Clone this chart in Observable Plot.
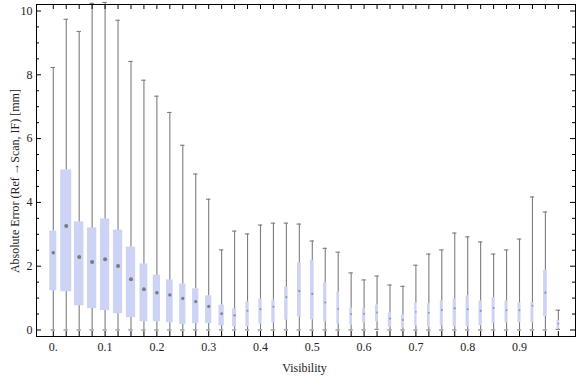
<!DOCTYPE html>
<html>
<head>
<meta charset="utf-8">
<script src="https://cdn.jsdelivr.net/npm/d3@7"></script>
<script src="https://cdn.jsdelivr.net/npm/@observablehq/plot@0.6"></script>
<style>
  html, body { margin: 0; padding: 0; background: white; }
</style>
</head>
<body>
<div id="chart"></div>
<script>
// ---- data ----
const visibility = [0, 0.025, 0.05, 0.075, 0.1, 0.125, 0.15, 0.175, 0.2, 0.225,
  0.25, 0.275, 0.3, 0.325, 0.35, 0.375, 0.4, 0.425, 0.45, 0.475,
  0.5, 0.525, 0.55, 0.575, 0.6, 0.625, 0.65, 0.675, 0.7, 0.725,
  0.75, 0.775, 0.8, 0.825, 0.85, 0.875, 0.9, 0.925, 0.95, 0.975];
const whiskerHigh = [8.23, 9.74, 9.36, 10.24, 10.27, 9.71, 8.42, 7.83, 7.33, 6.82,
  5.79, 4.89, 4.10, 2.51, 3.10, 3.01, 3.29, 3.35, 3.35, 3.32,
  2.79, 2.56, 2.44, 1.79, 1.57, 1.69, 1.41, 1.37, 2.03, 2.38,
  2.51, 3.04, 2.92, 2.76, 2.38, 2.51, 2.85, 4.17, 3.70, 0.62];
const upperQuartile = [3.10, 5.02, 3.39, 3.20, 3.48, 3.13, 2.60, 2.07, 1.72, 1.57,
  1.44, 1.29, 1.07, 0.78, 0.66, 0.88, 0.97, 0.94, 1.35, 2.10,
  2.19, 1.47, 1.19, 0.68, 0.66, 0.78, 0.53, 0.47, 0.85, 0.82,
  0.91, 0.97, 1.07, 0.91, 1.02, 0.91, 0.85, 0.85, 1.87, 0.30];
const median = [2.42, 3.26, 2.29, 2.13, 2.22, 2.01, 1.59, 1.28, 1.17, 1.10,
  0.99, 0.89, 0.74, 0.51, 0.46, 0.60, 0.65, 0.73, 1.03, 1.22,
  1.13, 0.86, 0.66, 0.50, 0.51, 0.55, 0.36, 0.31, 0.57, 0.54,
  0.63, 0.68, 0.65, 0.60, 0.69, 0.62, 0.62, 0.76, 1.17, 0.20];
const lowerQuartile = [1.23, 1.20, 0.76, 0.67, 0.61, 0.51, 0.39, 0.26, 0.26, 0.23,
  0.17, 0.20, 0.20, 0.13, 0.10, 0.10, 0.19, 0.23, 0.31, 0.41,
  0.32, 0.26, 0.19, 0.16, 0.23, 0.26, 0.09, 0.06, 0.13, 0.08,
  0.13, 0.10, 0.10, 0.13, 0.20, 0.23, 0.23, 0.23, 0.42, 0.04];
const whiskerLow = [0, 0, 0, 0, 0, 0, 0, 0, 0, 0,
  0, 0, 0, 0, 0, 0, 0, 0, 0, 0,
  0, 0, 0, 0, 0, 0.02, 0, 0, 0, 0,
  0, 0, 0, 0, 0, 0, 0, 0, 0, 0.02];
// relative sample weight of each bin (drives the box width)
const binWeight = [7, 11, 9.5, 9.3, 9.3, 9.3, 9.3, 7.8, 7.3, 6.7,
  6.3, 6.3, 6.3, 5.3, 4, 3.3, 3.3, 3.3, 3.3, 3.7,
  3.7, 3.3, 2.7, 2.7, 3, 3, 3.3, 3, 2.3, 2.7,
  3, 3.3, 3.3, 3.3, 3, 3, 3, 3, 3.7, 2.7];

const xTicks = [0, 0.1, 0.2, 0.3, 0.4, 0.5, 0.6, 0.7, 0.8, 0.9];
const xTickLabels = ["0.", "0.1", "0.2", "0.3", "0.4", "0.5", "0.6", "0.7", "0.8", "0.9"];
const yTicks = [0, 2, 4, 6, 8, 10];
const yTickLabels = ["0", "2", "4", "6", "8", "10"];
const yMinorTicks = d3.range(0, 10.01, 0.5).filter(v => v % 2 !== 0);

const xLabel = "Visibility";
const yLabel = "Absolute Error (Ref\u2009\u2192Scan, IF) [mm]";

// ---- layout ----
const W = 576, H = 377;
const mL = 36, mR = 1, mT = 4, mB = 41;
const plotW = W - mL - mR, plotH = H - mT - mB;
const xDomain = [-0.0324, 1.0081];
const yDomain = [-0.204, 10.204];
const unitsPerPx = (xDomain[1] - xDomain[0]) / plotW;
const capHalf = 2.2 * unitsPerPx;

const rows = visibility.map((v, i) => ({
  v, hi: whiskerHigh[i], q3: upperQuartile[i], med: median[i],
  q1: lowerQuartile[i], lo: whiskerLow[i], w: binWeight[i]
}));

const font = "'Liberation Serif', 'Times New Roman', serif";
const textColor = "#222";
const whiskerColor = "#7d7d7d";
const boxColor = "#ccd3f5";
const medianColor = "#7a7a7a";

const chart = Plot.plot({
  width: W, height: H,
  marginLeft: mL, marginRight: mR, marginTop: mT, marginBottom: mB,
  style: `font-family: ${font}; font-size: 12px; color: black; background: white; overflow: visible;`,
  x: {domain: xDomain, axis: null},
  y: {domain: yDomain, axis: null},
  r: {type: "identity"},
  marks: [
    // boxes
    Plot.rect(rows, {
      x1: d => d.v - d.w / 2 * unitsPerPx,
      x2: d => d.v + d.w / 2 * unitsPerPx,
      y1: "q1", y2: "q3", fill: boxColor
    }),
    // whiskers
    Plot.ruleX(rows, {x: "v", y1: "q3", y2: "hi", stroke: whiskerColor, strokeWidth: 1.1}),
    Plot.ruleX(rows, {x: "v", y1: "lo", y2: "q1", stroke: whiskerColor, strokeWidth: 1.1}),
    Plot.ruleY(rows, {y: "hi", x1: d => d.v - capHalf, x2: d => d.v + capHalf, stroke: whiskerColor, strokeWidth: 1.1}),
    Plot.ruleY(rows, {y: "lo", x1: d => d.v - capHalf, x2: d => d.v + capHalf, stroke: whiskerColor, strokeWidth: 1.1}),
    // medians
    Plot.dot(rows, {x: "v", y: "med", r: d => Math.min(2.0, 0.45 + 0.18 * d.w),
      fill: medianColor, fillOpacity: d => Math.min(1, 0.45 + 0.08 * d.w), stroke: "none"}),
    // frame and inward ticks
    Plot.frame({stroke: "black", strokeWidth: 1}),
    Plot.ruleY(yTicks, {y: d => d, insetRight: plotW - 5, stroke: "black"}),
    Plot.ruleY(yTicks, {y: d => d, insetLeft: plotW - 5, stroke: "black"}),
    Plot.ruleY(yMinorTicks, {y: d => d, insetRight: plotW - 3, stroke: "black"}),
    Plot.ruleY(yMinorTicks, {y: d => d, insetLeft: plotW - 3, stroke: "black"}),
    Plot.ruleX(visibility, {x: d => d, insetBottom: plotH - 5, stroke: "black"}),
    Plot.ruleX(visibility, {x: d => d, insetTop: plotH - 5, stroke: "black"}),
    // tick labels
    Plot.axisY(yTicks, {tickSize: 0, tickPadding: 4, label: null, fontSize: 12, fill: textColor,
      tickFormat: d => yTickLabels[yTicks.indexOf(d)]}),
    Plot.axisX(xTicks, {tickSize: 0, tickPadding: 6, label: null, fontSize: 12, fill: textColor,
      tickFormat: d => xTickLabels[xTicks.indexOf(d)]}),
    // axis labels
    Plot.text([xLabel], {frameAnchor: "bottom", dy: 35, dx: -1.5, lineAnchor: "bottom",
      textAnchor: "middle", fontSize: 12, fill: textColor}),
    Plot.text([yLabel], {frameAnchor: "left", rotate: -90, dx: -21, dy: 10.6,
      textAnchor: "middle", lineAnchor: "middle", fontSize: 12, fill: textColor})
  ]
});
document.getElementById("chart").appendChild(chart);
</script>
</body>
</html>
